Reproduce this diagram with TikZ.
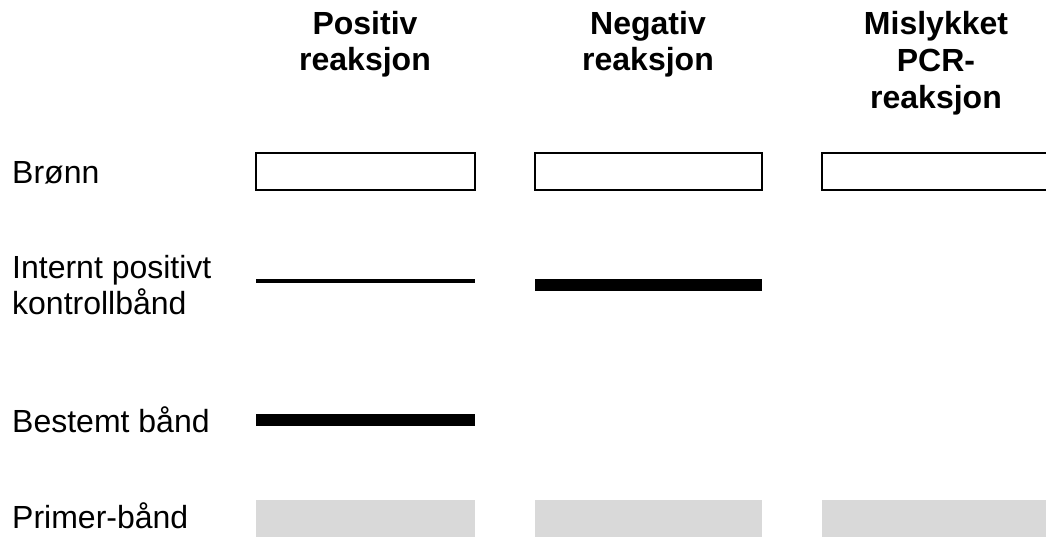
\documentclass[tikz,border=0pt]{standalone}
\usepackage{fontspec}
\setmainfont{Liberation Sans}
\usepackage{tikz}
\definecolor{primergray}{HTML}{D9D9D9}
\def\well(#1,#2){\draw [line width=2pt] (#1,153) rectangle (#2,190);}
\def\band(#1,#2,#3){\fill [black] (#1,#3) rectangle (#2,#3+12);}
\def\primer(#1,#2){\fill [primergray] (#1,500) rectangle (#2,537);}

\begin{document}
\begin{tikzpicture}[x=1pt,y=-1pt,
  head/.style={font=\fontsize{32}{36}\selectfont\bfseries,align=center,anchor=base,inner sep=0pt},
  rowlabel/.style={font=\fontsize{32}{36}\selectfont,align=left,anchor=base west,inner sep=0pt}]
\clip (0,0) rectangle (1046,536);
\fill [white] (0,0) rectangle (1046,536);
% column heads (base = last line)
\node [head] (pos) at (365,70) {Positiv\\reaksjon};
\node [head] (neg) at (648,70) {Negativ\\reaksjon};
\node [head,font=\fontsize{32}{37}\selectfont\bfseries] (fail) at (936,108) {Mislykket\\PCR-\\reaksjon};
% row labels
\node [rowlabel] (well) at (12,183) {Brønn};
\node [rowlabel] (ctrl) at (12,314) {Internt positivt\\kontrollbånd};
\node [rowlabel] (spec) at (12,432) {Bestemt bånd};
\node [rowlabel] (prim) at (12,528) {Primer-bånd};
% wells
\well(256,475) \well(535,762) \well(822,1049)
% control bands
\draw [line width=3.5pt] (256,281) -- (475,281);
\band(535,762,279)
% specific band
\band(256,475,414)
% primer bands
\primer(256,475) \primer(535,762) \primer(822,1049)
\end{tikzpicture}
\end{document}
